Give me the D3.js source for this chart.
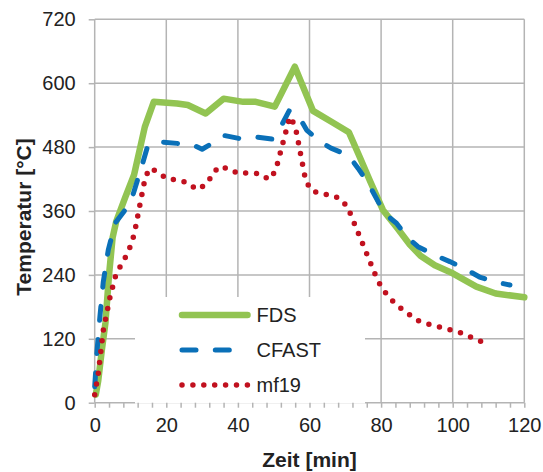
<!DOCTYPE html>
<html><head><meta charset="utf-8">
<script src="https://cdn.jsdelivr.net/npm/d3@7"></script>
<style>
html,body{margin:0;padding:0;background:#fff;}
svg{display:block;font-family:"Liberation Sans",Arial,sans-serif;}
</style></head>
<body>
<svg id="chart" width="543" height="472"></svg>
<script>
// ---- data ----
const seriesNames = ["FDS", "CFAST", "mf19"];
const fdsTime = [0.3,1,2,3,4,5,6,8.5,11,14,16.5,23,26,31,36,41.5,45,50.3,55.9,61,66,71,74,77,80.5,84.5,88,91,95,100,106.6,112,120];
const fdsTemp = [15,42,99,150,240,310,340,385,428,518,565,562,559,543,571,565,565,556,631,548,528,508,462,415,362,328,297,276,258,243,218,205,198];
const cfastTime = [0,0.6,1.5,2.4,3.8,5.7,8.5,10.8,13.1,14.8,18,23,27.5,30,32,36,40.5,45,49.5,52.2,54.3,56.8,59.2,63,66,70.8,73.6,76.4,81,84.3,87.1,90.3,95,99.2,103.3,107.5,111.7,116];
const cfastTemp = [30,93,165,227,287,337,362,393,443,482,490,487,484,476,484,502,496,499,495,521,548,540,512,490,478,465,440,412,355,337,312,293,277,265,252,236,227,221];
const mf19Time = [0,1,2.4,4.3,5.9,7.3,8.9,10.1,11.1,12.2,14,15.2,17.6,20,23,26,28.5,31,34.5,37.3,40.1,43.2,46.1,48.7,50.5,54.5,56,58.9,60.4,63.2,66.1,68.9,70.8,79,80.7,82.6,85,90,93,98.7,102,108];
const mf19Temp = [15,55,136,199,240,258,277,296,318,357,419,440,434,421,418,413,400,409,443,440,430,432,430,419,435,537,520,418,399,392,390,382,365,230,211,195,180,155,148,138,132,115];
const xTicks = [0,20,40,60,80,100,120];
const yTicks = [0,120,240,360,480,600,720];
const xMinorStep = 4;
const xTitle = "Zeit [min]";
const yTitle = "Temperatur [°C]";

// ---- layout ----
const svg = d3.select("#chart");
const L = 94.7, R = 524.3, T = 19.3, B = 402.7;
const x = d3.scaleLinear().domain([0,120]).range([L,R]);
const y = d3.scaleLinear().domain([0,720]).range([B,T]);
const gridCol = "#b4b4b4";

// grid
const grid = svg.append("g");
grid.selectAll("line.v").data(xTicks.filter(d=>d>0)).join("line")
  .attr("x1",d=>x(d)).attr("x2",d=>x(d)).attr("y1",T).attr("y2",B)
  .attr("stroke",gridCol).attr("stroke-width",1.5);
grid.selectAll("line.h").data(yTicks.filter(d=>d>0)).join("line")
  .attr("x1",L).attr("x2",R).attr("y1",d=>y(d)).attr("y2",d=>y(d))
  .attr("stroke",gridCol).attr("stroke-width",1.5);
// axis lines
svg.append("line").attr("x1",L).attr("x2",L).attr("y1",T).attr("y2",B).attr("stroke",gridCol).attr("stroke-width",1.5);
svg.append("line").attr("x1",L).attr("x2",R).attr("y1",B).attr("y2",B).attr("stroke",gridCol).attr("stroke-width",1.5);

// legend background
svg.append("rect").attr("x",135).attr("y",297).attr("width",230).attr("height",106.6).attr("fill","#fff");

// axes (ticks + labels)
const xAxis = d3.axisBottom(x).tickValues(d3.range(0,121,xMinorStep)).tickSize(5).tickPadding(10)
  .tickFormat(d=>xTicks.includes(d)?d:"");
const gx = svg.append("g").attr("transform",`translate(0,${B})`).call(xAxis);
gx.select(".domain").remove();
gx.selectAll("line").attr("stroke",gridCol).attr("stroke-width",1.5);
gx.selectAll("text").attr("font-size",20).attr("fill","#222").attr("font-family","Liberation Sans, Arial, sans-serif");

const yAxis = d3.axisLeft(y).tickValues(yTicks).tickSize(6).tickPadding(13);
const gy = svg.append("g").attr("transform",`translate(${L},0)`).call(yAxis);
gy.select(".domain").remove();
gy.selectAll("line").attr("stroke",gridCol).attr("stroke-width",1.5);
gy.selectAll("text").attr("font-size",20).attr("fill","#222").attr("font-family","Liberation Sans, Arial, sans-serif");

// titles
svg.append("text").attr("x",(L+R)/2).attr("y",467).attr("text-anchor","middle")
  .attr("font-size",21).attr("font-weight","bold").attr("fill","#222").text(xTitle);
svg.append("text").attr("transform",`translate(31,217) rotate(-90)`).attr("text-anchor","middle")
  .attr("font-size",21).attr("font-weight","bold").attr("fill","#222").text(yTitle);

// series
const styles = [
  {color:"#92c452", width:6.5, dash:null},
  {color:"#0a70b8", width:5, dash:"14,19.3"},
  {color:"#c1111f", width:5.5, dash:"0,10.9"}
];
const data = [
  d3.zip(fdsTime, fdsTemp),
  d3.zip(cfastTime, cfastTemp),
  d3.zip(mf19Time, mf19Temp)
];
const line = d3.line().x(d=>x(d[0])).y(d=>y(d[1]));
data.forEach((d,i)=>{
  const s = styles[i];
  const p = svg.append("path").attr("d",line(d)).attr("fill","none")
    .attr("stroke",s.color).attr("stroke-width",s.width)
    .attr("stroke-linecap","round").attr("stroke-linejoin","round");
  if (s.dash) p.attr("stroke-dasharray",s.dash);
});

// legend
const rowsY = [315, 350, 385];
seriesNames.forEach((n,i)=>{
  const s = styles[i];
  const ly = rowsY[i];
  const p = svg.append("line").attr("x1",182).attr("x2",i===2?248.5:247.5).attr("y1",ly).attr("y2",ly)
    .attr("stroke",s.color).attr("stroke-width",s.width).attr("stroke-linecap","round");
  if (s.dash) p.attr("stroke-dasharray",s.dash);
  svg.append("text").attr("x",256.5).attr("y",ly+7.3).attr("font-size",20).attr("fill","#222").text(n);
});
</script>
</body></html>
